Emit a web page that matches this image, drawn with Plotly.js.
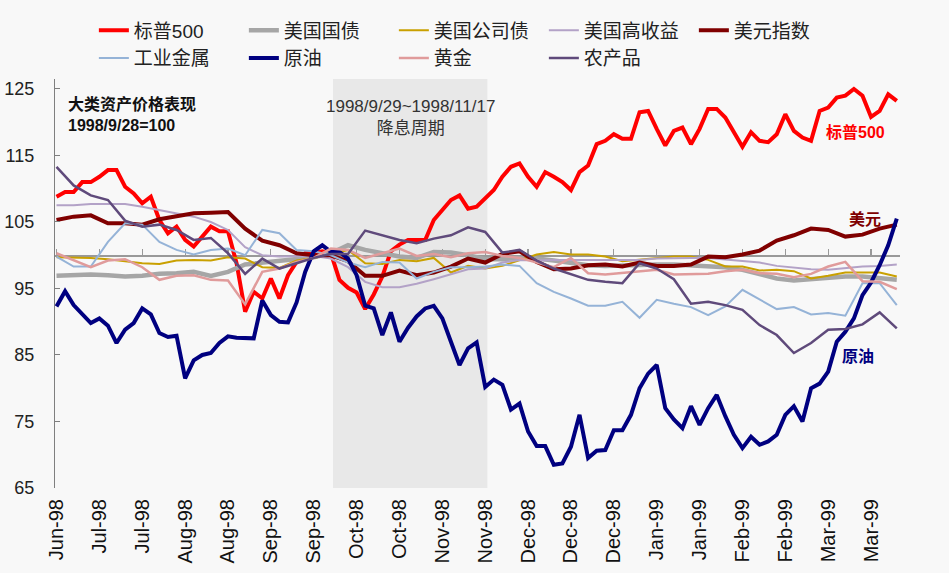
<!DOCTYPE html>
<html>
<head>
<meta charset="utf-8">
<script src="https://cdn.plot.ly/plotly-3.0.1.min.js"></script>
<style>
  html, body { margin: 0; padding: 0; background: #f8f8f8; }
  #chart { width: 949px; height: 573px; }
</style>
</head>
<body>
<div id="chart"></div>
<script>
// ---- x axis: trading-day index (0 = 1998-06-29), one label every 10 trading days ----
const tickLabels = ['Jun-98','Jul-98','Jul-98','Aug-98','Aug-98','Sep-98','Sep-98','Oct-98','Oct-98','Nov-98',
                    'Nov-98','Dec-98','Dec-98','Dec-98','Jan-99','Jan-99','Feb-99','Feb-99','Mar-99','Mar-99'];
const tickEvery = 10;
const yTicks = [65, 75, 85, 95, 105, 115, 125];

// rate-cut window (trading-day indices)
const cutStart = 65, cutEnd = 100;
const cutText = '1998/9/29~1998/11/17';
const cutName = '降息周期';

// ---- series (1998/9/28 = 100) ----
// S&P 500 and crude oil sampled every 2 trading days
const spStep = 2;
const sp500 = [108.8,109.5,109.5,111,111,111.8,112.8,112.8,110.3,109.3,
               107.8,108.8,105.3,103.3,104.3,102.3,101.3,102.8,104.3,103.6,
               103.6,98.8,91.5,94.5,93.5,96.5,93.5,97,99,100.3,
               100.3,100.6,100.3,96.3,95.1,94.4,91.9,94.1,96.8,100.6,
               101.6,102.3,102.3,102.3,105.3,106.8,108.3,109,107,107.3,
               108.5,109.8,111.8,113.3,113.8,111.8,110.3,112.5,111.8,111,
               109.8,112.5,113.5,116.7,117.2,118.2,117.5,117.5,121.5,121.7,
               119,116.5,118.7,119.2,116.7,119,122,122,120.7,118.5,
               116.3,118.5,117.2,117,118.2,121.2,118.7,117.7,117.2,121.7,
               122.2,123.7,124,125,124,120.8,121.7,124.2,123.2];
const oilStep = 2;
const crude = [92.3,94.6,92.5,91.2,89.8,90.5,89.4,86.8,88.8,89.8,
               92,91.1,88.3,87.7,87.9,81.5,84.2,85,85.3,86.8,
               87.8,87.6,87.6,87.5,93.2,91,90,89.9,92.9,97.5,
               100.6,101.5,100.5,100.5,99.5,97,92.4,92,88,91.4,
               87,89.1,90.8,92,92.4,90.5,87,83.5,86,86.9,
               80.2,81.3,80.5,76.8,77.7,73.5,71.3,71.3,68.5,68.7,
               71.2,76,69.5,70.6,70.7,73.7,73.7,76,80,82.2,
               83.5,77,75.3,74,77.3,74.5,77,79,75.8,73,
               71,72.7,71.5,72,73,76,77.3,75,80,80.7,
               82.5,87,88.5,90.5,94,95.9,98.5,101.5,105.5];
// the others sampled every 4 trading days
const slowStep = 4;
const treasury = [96.9,97,97.1,97,96.8,96.9,97.2,97.3,97.5,96.9,
                  97.5,98.6,98.9,99.2,99.5,99.7,100.3,101.5,100.8,100.3,
                  99.8,99.6,100.5,100.4,100,99.4,99.4,99.6,99.5,99.2,
                  98.8,98.5,98.4,98.5,98.6,98.6,98.6,98.5,98.4,98.2,
                  97.8,97.2,96.5,96.2,96.4,96.6,96.8,96.8,96.6,96.3];
const corporate = [99.7,99.7,99.6,99.4,99.1,98.8,98.7,99.2,99.3,99.2,
                   99.7,99.5,98.2,98.1,99.2,99.6,100.2,100.8,98.8,98.7,
                   99.3,99.1,99.6,97.4,98.4,98,98.4,99.3,100.1,100.5,
                   100.1,100.1,99.8,99.1,99.3,99.5,99.8,99.8,99.3,98.3,
                   98.3,97.7,97.8,97.6,96.5,96.9,97.4,97.4,97.4,96.8];
const highYield = [107.5,107.5,107.7,107.7,107.7,107.3,106.8,106.4,105.8,105,
                   103.8,101.2,100,99.8,99.8,99.9,99.5,98.2,96,95.2,
                   95.2,95.7,96.4,97.1,97.9,98,98.9,99.3,99.2,99.3,
                   99.3,99.2,99.2,99.2,99.3,99.5,99.6,99.6,99.6,99.4,
                   99.1,98.9,98.4,98.1,97.9,97.8,98.1,98.3,98.4,98.6];
const dollar = [105.3,105.8,106,104.8,104.8,104.6,105.4,105.8,106.3,106.4,
                106.5,104,102.2,101.5,100.3,100,100,99.1,96.9,96.9,
                97.7,97,97.4,98.3,99.5,98.9,100.2,100.6,99,97.9,
                98,98.5,98.6,98.3,98.9,98.4,98.4,98.6,99.8,99.7,
                100.1,100.7,102.2,103,104,103.8,102.8,103.1,104,104.6];
const metals = [99.8,98.3,98.3,102,104.8,104.6,102,100.8,100.1,100.8,
                101,100,103.8,103.3,100.8,100.6,100,98.9,98.2,99,
                98.9,96.5,97.5,98.2,98.2,98.3,98.6,98.4,95.8,94.5,
                93.5,92.4,92.4,93,90.6,93.3,92.7,92.2,91,92.3,
                94.8,93.4,91.9,92.2,91.1,91.3,90.9,95.8,95.8,92.5];
const gold = [100.3,99.3,98.2,99.2,99.4,98.2,96.3,96.9,97,96.3,
              96.2,92.6,97.5,98,99,99.6,101,100.8,99.6,100.3,
              101,99.9,100.2,99.7,100.3,100.5,99.9,99.6,98.9,98.2,
              99.6,97.3,97.1,97.3,97.6,97.8,97.1,97.1,97.2,97.6,
              97.8,97.3,97.2,96.7,97.2,98.3,99,96.1,96,94.9];
const farm = [113.3,110.5,109,108.3,105.2,104.3,104.6,103.8,102.3,102.6,
              100.3,97.2,99.5,98,98.8,99.6,100.2,100.2,103.7,103,
              102.3,101.8,102.5,103,104.2,103.5,100.4,100.8,99.2,98,
              97.1,96.3,96,95.8,98.8,98,96.4,92.7,93,92.5,
              91.8,89.5,88,85.3,86.8,88.8,88.9,89.6,91.4,89];

const seriesNames = ['标普500','美国国债','美国公司债','美国高收益','美元指数','工业金属','原油','黄金','农产品'];
const seriesData  = [sp500, treasury, corporate, highYield, dollar, metals, crude, gold, farm];
const seriesStep  = [spStep, slowStep, slowStep, slowStep, slowStep, slowStep, oilStep, slowStep, slowStep];
const seriesColor = ['#ff0000','#a6a6a6','#c9a000','#b3a2c7','#800000','#95b3d7','#000080','#e09b9b','#5f4a7b'];
const seriesWidth = [4, 4.5, 2, 2, 4, 2, 4, 2.5, 2.5];

const endLabels = [
  {text: '标普500', series: 0, x: 179, y: 118.6},
  {text: '美元',    series: 4, x: 184.4, y: 105.5},
  {text: '原油',    series: 6, x: 182.8, y: 84.8}
];

// ---- build ----
const yMin = 65, yMax = 126.5, baseLevel = 100;
const xRange = [-0.35, 196.75];
const tickVals = tickLabels.map((_, i) => i * tickEvery);

const traces = seriesData.map((vals, s) => ({
  type: 'scatter', mode: 'lines', name: seriesNames[s],
  x: vals.map((_, i) => i * seriesStep[s]),
  y: vals,
  line: {color: seriesColor[s], width: seriesWidth[s]},
  hoverinfo: 'skip'
}));
// carrier for the 100-level axis
traces.push({type: 'scatter', x: [], y: [], xaxis: 'x2', yaxis: 'y', showlegend: false, hoverinfo: 'skip'});

const latin = 'Liberation Sans, Arial, Noto Sans CJK SC, sans-serif';

const layout = {
  width: 949, height: 573,
  paper_bgcolor: '#f8f8f8', plot_bgcolor: '#f8f8f8',
  margin: {l: 55, r: 49, t: 77, b: 85},
  showlegend: true,
  legend: {
    orientation: 'h', x: 0.046, xanchor: 'left', y: 1.165, yanchor: 'top',
    entrywidth: 105, entrywidthmode: 'pixels', traceorder: 'normal',
    bgcolor: 'rgba(0,0,0,0)', borderwidth: 0,
    font: {family: latin, size: 19, color: '#222'}
  },
  xaxis: {
    range: xRange, tickmode: 'array', tickvals: tickVals, ticktext: tickLabels,
    tickangle: -90, showline: false, ticks: '', showgrid: false, zeroline: false,
    ticklabelstandoff: 6,
    tickfont: {family: latin, size: 20, color: '#111'}
  },
  xaxis2: {
    overlaying: 'x', anchor: 'free', position: (baseLevel - yMin) / (yMax - yMin),
    range: xRange, tickmode: 'array', tickvals: tickVals, showticklabels: false,
    ticks: 'inside', ticklen: 6, tickcolor: '#999', tickwidth: 1.2,
    showline: true, linecolor: '#999', linewidth: 1.5,
    showgrid: false, zeroline: false, layer: 'below traces'
  },
  yaxis: {
    range: [yMin, yMax], tickmode: 'array', tickvals: yTicks,
    ticks: 'inside', ticklen: 5, tickcolor: '#7f7f7f',
    showline: true, linecolor: '#7f7f7f', linewidth: 1.2,
    showgrid: false, zeroline: false, ticklabelstandoff: 16,
    tickfont: {family: latin, size: 18, color: '#222'}
  },
  shapes: [{
    type: 'rect', xref: 'x', yref: 'paper', x0: cutStart - 0.5, x1: cutEnd + 0.5, y0: 0, y1: 1,
    fillcolor: '#e8e8e8', line: {width: 0}, layer: 'below'
  }],
  annotations: [
    {xref: 'paper', yref: 'paper', x: 0.013, y: 0.914, xanchor: 'left', yanchor: 'middle', align: 'left',
     showarrow: false, text: '<b>大类资产价格表现</b><br><b>1998/9/28=100</b>',
     font: {family: latin, size: 16, color: '#111'}},
    {xref: 'x', yref: 'paper', x: (cutStart + cutEnd) / 2, y: 0.907, xanchor: 'center', yanchor: 'middle',
     showarrow: false, text: cutText + '<br>' + cutName,
     font: {family: latin, size: 17, color: '#333'}},
    ...endLabels.map(l => ({
      xref: 'x', yref: 'y', x: l.x, y: l.y, xanchor: 'left', yanchor: 'middle', showarrow: false,
      text: '<b>' + l.text + '</b>', font: {family: latin, size: 16, color: seriesColor[l.series]}
    }))
  ]
};

Plotly.newPlot('chart', traces, layout, {displayModeBar: false, staticPlot: true});
</script>
</body>
</html>
